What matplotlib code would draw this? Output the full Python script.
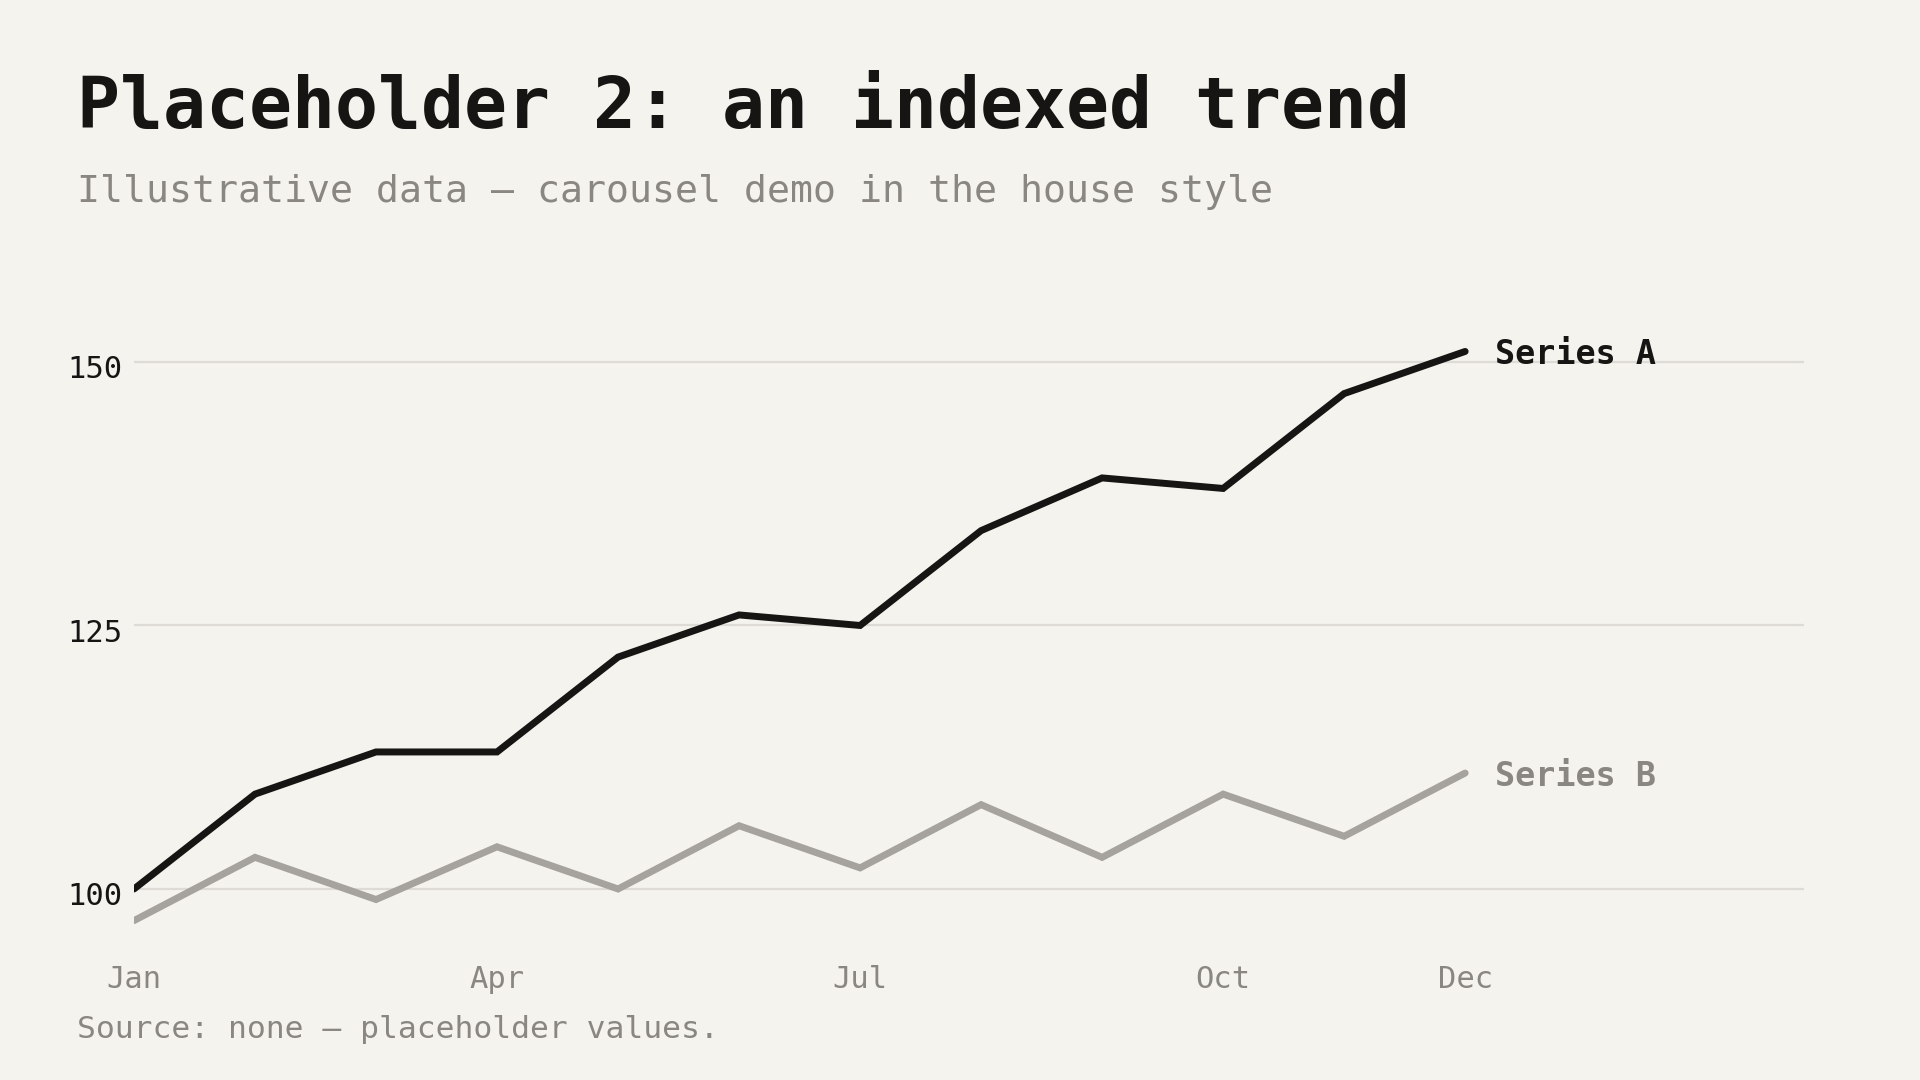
import matplotlib
matplotlib.use("Agg")
import matplotlib.pyplot as plt
import matplotlib.transforms as mtransforms

months = ["Jan", "Feb", "Mar", "Apr", "May", "Jun", "Jul", "Aug", "Sep", "Oct", "Nov", "Dec"]
series_a = [100, 109, 113, 113, 122, 126, 125, 134, 139, 138, 147, 151]
series_b = [97, 103, 99, 104, 100, 106, 102, 108, 103, 109, 105, 111]
tick_months = ["Jan", "Apr", "Jul", "Oct", "Dec"]
y_ticks = [100, 125, 150]

BG = "#f5f3ee"
INK = "#161513"
GREY = "#a6a39e"
TXT_GREY = "#8a8681"
GRID = "#dedbd6"
FONT = "DejaVu Sans Mono"

W, H = 1920, 1080
fig = plt.figure(figsize=(W / 100, H / 100), dpi=100, facecolor=BG)

def fx(px):
    return px / W

def fy(py):
    return 1 - py / H

ax_left, ax_right, ax_top, ax_bot = 134, 1804, 300, 950
ax = fig.add_axes([fx(ax_left), fy(ax_bot), fx(ax_right - ax_left), (ax_bot - ax_top) / H])
ax.set_facecolor(BG)

x = list(range(len(months)))
ax.plot(x, series_b, color=GREY, lw=5, solid_capstyle="round", solid_joinstyle="miter", zorder=3)
ax.plot(x, series_a, color=INK, lw=5, solid_capstyle="round", solid_joinstyle="miter", zorder=4)

ax.set_xlim(0, 13.8)
ax.set_ylim(94.21, 155.88)

for s in ax.spines.values():
    s.set_visible(False)

ax.set_yticks(y_ticks)
ax.yaxis.grid(True, color=GRID, lw=1.6)
ax.set_axisbelow(True)
ax.tick_params(axis="y", length=0, pad=8, labelsize=22, labelcolor=INK)
offset = mtransforms.ScaledTranslation(0, -5 / 100, fig.dpi_scale_trans)
for t in ax.yaxis.get_major_ticks():
    t.label1.set_fontfamily(FONT)
    t.label1.set_transform(t.label1.get_transform() + offset)

ax.set_xticks([months.index(m) for m in tick_months])
ax.set_xticklabels(tick_months, fontfamily=FONT, fontsize=22, color=TXT_GREY)
ax.tick_params(axis="x", length=0, pad=11)

ax.text(x[-1] + 0.25, series_a[-1], "Series A", fontfamily=FONT, fontsize=24,
        fontweight="bold", color=INK, va="center_baseline", ha="left")
ax.text(x[-1] + 0.25, series_b[-1], "Series B", fontfamily=FONT, fontsize=24,
        fontweight="bold", color=TXT_GREY, va="center_baseline", ha="left")

fig.text(fx(77), fy(128), "Placeholder 2: an indexed trend", fontfamily=FONT,
         fontsize=51.5, fontweight="bold", color=INK, va="baseline", ha="left")
fig.text(fx(77), fy(202), "Illustrative data — carousel demo in the house style",
         fontfamily=FONT, fontsize=27.5, color=TXT_GREY, va="baseline", ha="left")
fig.text(fx(77), fy(1038), "Source: none — placeholder values.",
         fontfamily=FONT, fontsize=22.6, color=TXT_GREY, va="baseline", ha="left")

fig.savefig("out.png", dpi=100, facecolor=BG)
